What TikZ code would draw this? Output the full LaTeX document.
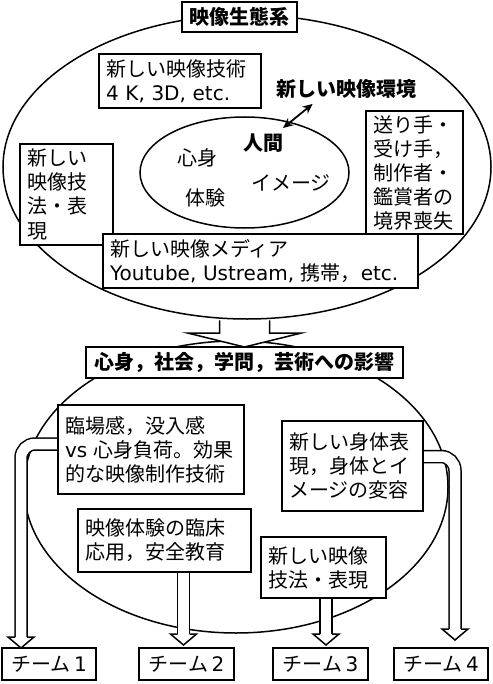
\documentclass[tikz,border=0pt]{standalone}
\usepackage{fontspec}
\setmainfont{Noto Sans CJK JP}
\newfontfamily\lat{DejaVu Sans}
\usetikzlibrary{arrows.meta, positioning, calc, shapes.geometric}
\pgfdeclarelayer{back}
\pgfdeclarelayer{mid}
\pgfsetlayers{back,mid,main}
\tikzset{
  box/.style={draw, fill=white, line width=0.75pt, align=left, anchor=north west, inner xsep=3.5pt, inner ysep=0pt, outer sep=0pt, font=\fontsize{10}{12}\selectfont},
  headbox/.style={draw, fill=white, line width=0.75pt, inner sep=0pt, outer sep=0pt, font=\fontsize{10}{12}\selectfont\bfseries},
  teambox/.style={draw, fill=white, line width=0.75pt, inner sep=0pt, outer sep=0pt, minimum height=16pt, font=\fontsize{10}{12}\selectfont},
  oval/.style={ellipse, draw, line width=0.75pt, inner sep=0pt, outer sep=0pt},
  word/.style={inner sep=0pt, font=\fontsize{10}{12}\selectfont},
  shaft/.style={line width=0.75pt, double=white, double distance=5.25pt, rounded corners=7pt},
}
\begin{document}
\begin{tikzpicture}[x=0.5pt,y=-0.5pt]
\useasboundingbox (0,0) rectangle (492,684);
\newcommand{\blockhead}[1]{\filldraw[fill=white, line width=0.75pt] ($(#1)+(-6,-11)$) -- ($(#1)+(-13,-11)$) -- (#1) -- ($(#1)+(13,-11)$) -- ($(#1)+(6,-11)$);}
\begin{pgfonlayer}{back}
\node[oval, minimum width=244pt, minimum height=152pt] (eco) at (247,167) {};
\node[oval, minimum width=104.5pt, minimum height=55.5pt] (human) at (244.5,172.5) {};
\node[oval, minimum width=212pt, minimum height=146pt] (sphere) at (236,487) {};
\end{pgfonlayer}
\node[headbox, minimum width=57.5pt, minimum height=15pt] (ecotitle) at (239.5,17) {映像生態系};
\node[box, text width=74pt, minimum height=27pt] (tech) at (99,54) {新しい映像技術\\{\lat 4 K, 3D, etc.}};
\node[word, font=\fontsize{10}{12}\selectfont\bfseries] (env) at (346,89) {新しい映像環境};
\node[word, font=\fontsize{10}{12}\selectfont\bfseries] (hm) at (263,143) {人間};
\node[word] (mind) at (197,158) {心身};
\node[word] (exp) at (205,198) {体験};
\node[word] (img) at (291,183) {イメージ};
\node[box, text width=41.5pt, minimum height=61.5pt] (sender) at (366,111) {送り手・\\受け手，\\制作者・\\鑑賞者の\\境界喪失};
\node[box, text width=39.5pt, minimum height=50.5pt] (style) at (20,144) {新しい\\映像技\\法・表\\現};
\node[box, text width=150.5pt, minimum height=27pt] (media) at (103,234) {新しい映像メディア\\{\lat Youtube, Ustream, }携帯，{\lat etc.}};
\node[headbox, minimum width=158.5pt, minimum height=15.5pt] (impact) at (244.5,362.5) {心身，社会，学問，芸術への影響};
\node[box, text width=86pt, minimum height=44.5pt] (imm) at (58,405) {臨場感，没入感\\{\lat vs} 心身負荷。効果\\的な映像制作技術};
\node[box, text width=63.5pt, minimum height=45pt] (body) at (282,421) {新しい身体表\\現，身体とイ\\メージの変容};
\node[box, text width=79.5pt, minimum height=31.5pt] (clinic) at (78,509) {映像体験の臨床\\応用，安全教育};
\node[box, text width=55.5pt, minimum height=30.5pt] (newtech) at (261,537) {新しい映像\\技法・表現};
\node[teambox, minimum width=47pt] (team1) at (49,664) {チーム\,{\lat 1}};
\node[teambox, minimum width=47.5pt] (team2) at (186.5,664) {チーム\,{\lat 2}};
\node[teambox, minimum width=47.5pt] (team3) at (320.5,664) {チーム\,{\lat 3}};
\node[teambox, minimum width=47pt] (team4) at (441,664) {チーム\,{\lat 4}};
\coordinate (envtip) at (283,128);
\draw[{Stealth[length=5pt,width=4.5pt]}-{Stealth[length=5pt,width=4.5pt]}, line width=0.9pt] (envtip) -- ([xshift=18.5pt,yshift=-2.5pt]env.south west);
\coordinate (tip1) at ([xshift=-14pt]team1.north);
\coordinate (from2) at ([xshift=9.5pt]clinic.south);
\coordinate (tip2) at ([yshift=1.5pt]team2.north -| from2);
\coordinate (from3) at ([xshift=1.25pt]newtech.south);
\coordinate (tip3) at ([yshift=1.5pt]team3.north -| from3);
\coordinate (tip4) at ([xshift=7pt,yshift=4pt]team4.north);
\begin{pgfonlayer}{mid}
\filldraw[fill=white, line width=0.75pt] ($(eco.south -| impact.north)+(-25,1.4)$) -- ($(impact.north)+(-25,-14)$) -- ($(impact.north)+(-57,-14)$) -- (impact.north) -- ($(impact.north)+(57,-14)$) -- ($(impact.north)+(25,-14)$) -- ($(eco.south -| impact.north)+(25,1.4)$);
\draw[shaft] ([yshift=2.75pt]imm.west) -| ($(tip1)+(0,-11)$);
\blockhead{tip1}
\draw[shaft] (from2) -- ($(tip2)+(0,-11)$);
\blockhead{tip2}
\draw[shaft] (from3) -- ($(tip3)+(0,-11)$);
\blockhead{tip3}
\draw[shaft] ([yshift=4.75pt]body.east) -| ($(tip4)+(0,-11)$);
\blockhead{tip4}
\end{pgfonlayer}
\end{tikzpicture}
\end{document}
